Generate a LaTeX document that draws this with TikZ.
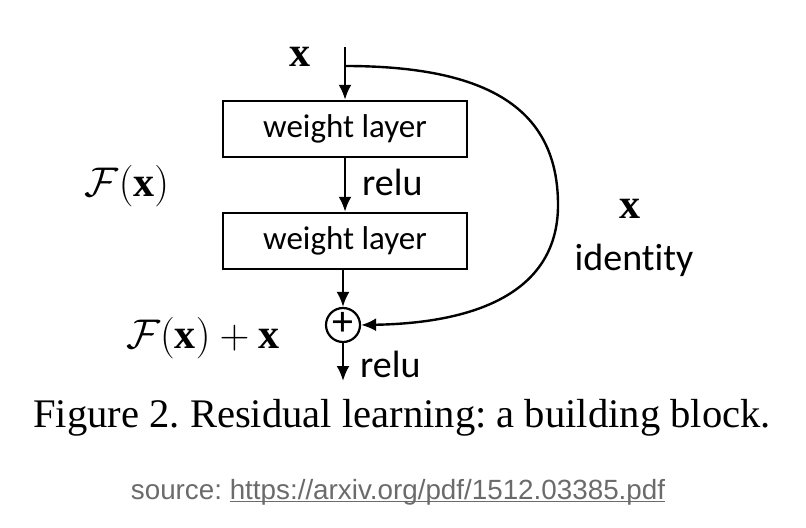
\documentclass[tikz,border=0pt]{standalone}
\usepackage{amsmath}
\usepackage{fontspec}
\setmainfont{Liberation Serif}
\newfontfamily\calibri[Ligatures=NoCommon]{Carlito}
\newfontfamily\srcfont{Liberation Sans}
\usetikzlibrary{positioning,arrows.meta,calc}
\definecolor{srcgray}{HTML}{6B6B6B}
\newcommand\srcline[1]{\setbox0\hbox{#1}\rlap{\rule[-1.6pt]{\wd0}{0.7pt}}\box0}
\frenchspacing
\begin{document}
\begin{tikzpicture}[
  x=0.5pt, y=-0.5pt,
  line width=1.2pt,
  >={Latex[length=7.5pt,width=6.5pt]},
  layer/.style={draw, line width=1.2pt, minimum width=122pt, minimum height=28pt,
                inner sep=0pt, font=\calibri\fontsize{16.5}{18}\selectfont},
  lbl/.style={font=\calibri\fontsize{19}{21}\selectfont, inner sep=0pt},
  mth/.style={font=\fontsize{21}{23}\selectfont, inner sep=0pt},
  addop/.style={draw, circle, line width=1.1pt, minimum size=17pt, inner sep=0pt,
                font=\calibri\fontsize{21}{21}\selectfont},
]
\useasboundingbox (0,0) rectangle (806,528);
% ================= main path =================
\coordinate (in) at (345,47);
\coordinate (split) at (345,66);
\node[layer] (w1) at (345,129) {weight layer};
\node[layer] (w2) at (345,241) {weight layer};
\node[addop] (add) at (343,325) {\raisebox{1pt}{+}};
\coordinate (out) at (343,381);

\draw[->] (in) -- (w1.north);
\draw[->] (w1.south) -- (w2.north);
\draw[->] (w2.south -| add.north) -- (add.north);
\draw[->] (add.south) -- (out);

% ================= shortcut =================
\draw[->] (split) .. controls (490,66) and (558,110) .. (558,205)
                  .. controls (558,290) and (480,323) .. (add.east);

% ================= labels =================
\node[mth] (xin) at (300,57) {$\mathbf{x}$};
\node[lbl, anchor=west] (relu1) at (361,182) {relu};
\node[lbl, anchor=west] (relu2) at (359,364) {relu};
\node[mth] (fx) at (127,186) {$\mathcal{F}(\mathbf{x})$};
\node[mth] (fxx) at (203,338) {$\mathcal{F}(\mathbf{x})+\mathbf{x}$};
\node[mth] (xid) at (630,209) {$\mathbf{x}$};
\node[lbl] (ident) at (634,260) {identity};

% ================= caption =================
\node[font=\fontsize{20.3}{22}\selectfont, inner sep=0pt] (cap) at (402,418)
     {Figure 2. Residual learning: a building block.};
\node[font=\srcfont\fontsize{13.9}{16}\selectfont, text=srcgray, inner sep=0pt] (src) at (398,492)
     {source: \srcline{https://arxiv.org/pdf/1512.03385.pdf}};
\end{tikzpicture}
\end{document}
